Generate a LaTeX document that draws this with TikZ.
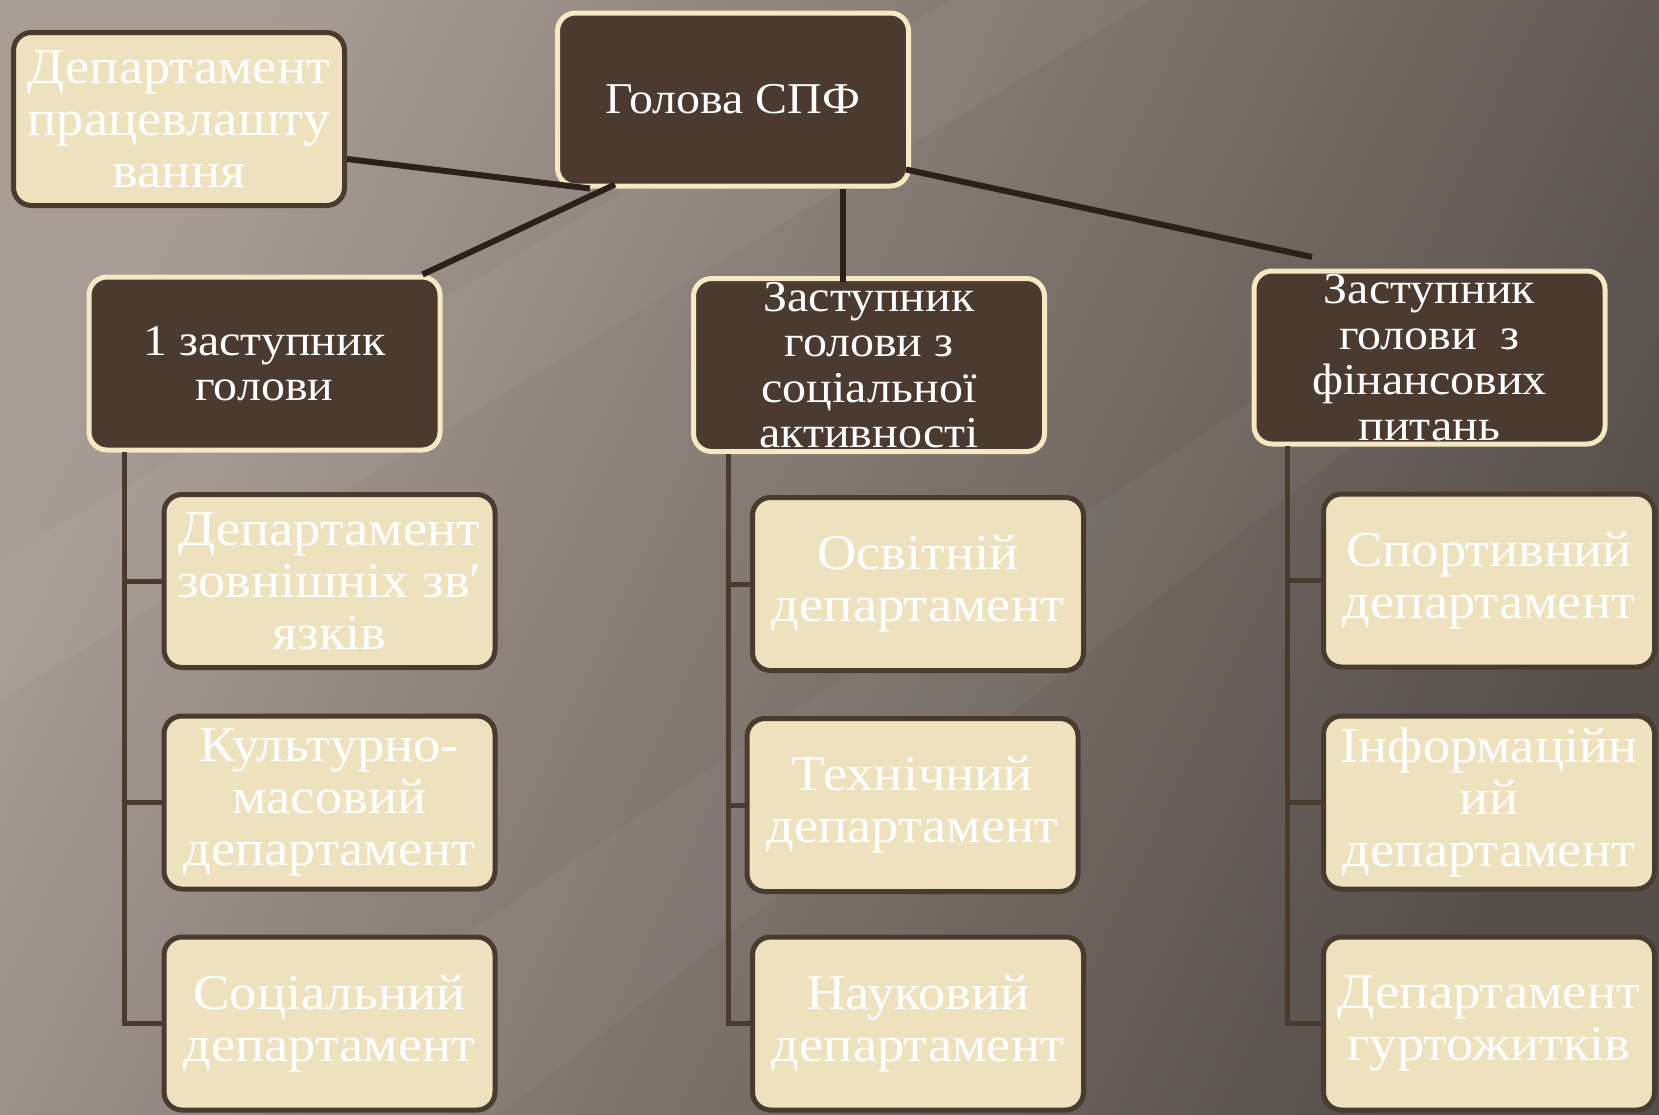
\documentclass[tikz,border=0pt]{standalone}
\usepackage{fontspec}
\setmainfont[FakeStretch=1.09]{Liberation Serif}
\definecolor{darkfill}{HTML}{4B3A2F}
\definecolor{cream}{HTML}{F6E8C3}
\definecolor{lightfill}{HTML}{EEE1BE}
\definecolor{lightborder}{HTML}{4A3B30}
\definecolor{connc}{HTML}{2B201B}
\definecolor{bgA}{HTML}{A89D95}
\definecolor{bgB}{HTML}{564E49}
\tikzset{
  darkbox/.style={draw=cream, fill=darkfill, line width=5pt, rounded corners=18pt,
    minimum width=351pt, minimum height=173pt, inner sep=0pt, align=center,
    text=white, font=\fontsize{44}{45.5}\selectfont},
  lightbox/.style={draw=lightborder, fill=lightfill, line width=5pt, rounded corners=18pt,
    minimum width=331pt, minimum height=173pt, inner sep=0pt, align=center,
    text=white, font=\fontsize{50}{52}\selectfont},
  connline/.style={draw=connc, line width=6pt},
  busline/.style={draw=lightborder, line width=5pt}
}
\begin{document}
\begin{tikzpicture}[x=1pt,y=-1pt]
\useasboundingbox (0,0) rectangle (1659,1114);
\shade[left color=bgA, right color=bgB, shading angle=65] (0,0) rectangle (1659,1114);
\fill[white, opacity=0.04] (0,700) -- (0,560) -- (950,0) -- (1150,0) -- cycle;
\fill[white, opacity=0.035] (200,1114) -- (1400,300) -- (1500,330) -- (500,1114) -- cycle;
% children
\node[lightbox] (c11) at (329.5,581) {Департамент\\зовнішніх зв′\\язків};
\node[lightbox] (c12) at (329.5,802.5) {Культурно-\\масовий\\департамент};
\node[lightbox] (c13) at (329.5,1023.5) {Соціальний\\департамент};
\node[lightbox] (c21) at (918,584) {Освітній\\департамент};
\node[lightbox] (c22) at (912.5,805) {Технічний\\департамент};
\node[lightbox] (c23) at (918,1023.5) {Науковий\\департамент};
\node[lightbox] (c31) at (1489,580.5) {Спортивний\\департамент};
\node[lightbox] (c32) at (1489,802.5) {Інформаційн\\ий\\департамент};
\node[lightbox] (c33) at (1489,1023.5) {Департамент\\гуртожитків};
% top nodes
\node[lightbox] (dep0) at (179,119) {Департамент\\працевлашту\\вання};
\node[darkbox] (head) at (733,99.5) {Голова СПФ};
\node[darkbox] (z1) at (264.5,363.5) {1 заступник\\голови};
\node[darkbox] (z2) at (869,365) {Заступник\\голови з\\соціальної\\активності};
\node[darkbox] (z3) at (1429.5,357.5) {Заступник\\голови~ з\\фінансових\\питань};
% bus lines
\coordinate (b1) at (124,452);
\coordinate (b2) at (728,454);
\coordinate (b3) at (1287,446);
\draw[busline] (b1) |- (c11.west);
\draw[busline] (b1) |- (c12.west);
\draw[busline] (b1) |- (c13.west);
\draw[busline] (b2) |- (c21.west);
\draw[busline] (b2) |- (c22.west);
\draw[busline] (b2) |- (c23.west);
\draw[busline] (b3) |- (c31.west);
\draw[busline] (b3) |- (c32.west);
\draw[busline] (b3) |- (c33.west);
% main connectors
\coordinate (free) at (1312,257);
\draw[connline] ([yshift=-40pt]dep0.east) -- ([xshift=35pt]head.south west);
\draw[connline] ([xshift=60pt,yshift=4pt]head.south west) -- ([xshift=-20pt]z1.north east);
\draw[connline] ([xshift=110pt]head.south) -- ([xshift=-26pt,yshift=-6pt]z2.north);
\draw[connline] ([xshift=-5pt,yshift=19pt]head.south east) -- (free);
\end{tikzpicture}
\end{document}
